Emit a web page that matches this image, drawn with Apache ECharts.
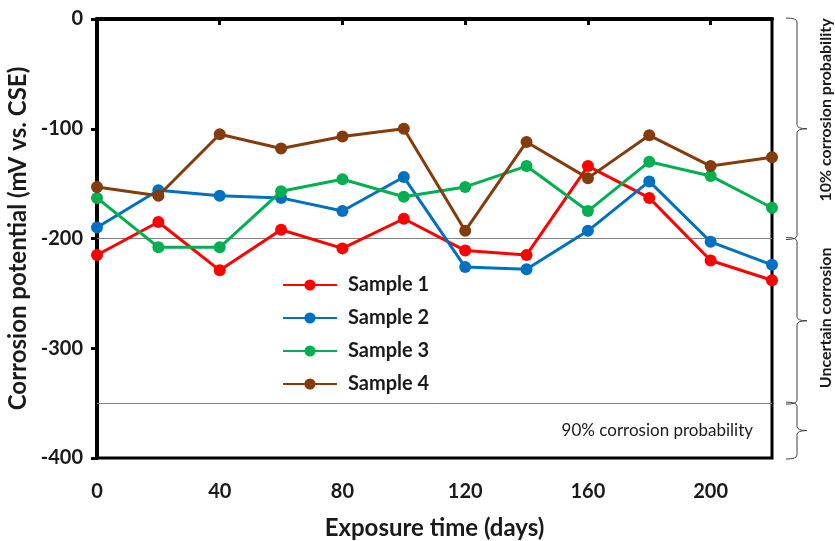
<!DOCTYPE html>
<html lang="en">
<head>
    <meta charset="UTF-8">
    <title>Corrosion potential</title>
    <style>
        html, body { margin: 0; padding: 0; background: #fff; }
        #main { width: 835px; height: 541px; }
    </style>
</head>
<body>
<div id="main"></div>
<script src="https://cdn.jsdelivr.net/npm/echarts@6/dist/echarts.min.js"></script>
<script>
    var days = [0, 20, 40, 60, 80, 100, 120, 140, 160, 180, 200, 220];
    var sample1 = [-215, -185, -229, -192, -209, -182, -211, -215, -134, -163, -220, -238];
    var sample2 = [-190, -156, -161, -163, -175, -144, -226, -228, -193, -148, -203, -224];
    var sample3 = [-163, -208, -208, -157, -146, -162, -153, -134, -175, -130, -143, -172];
    var sample4 = [-153, -161, -105, -118, -107, -100, -193, -112, -145, -106, -134, -126];
    var names = ['Sample 1', 'Sample 2', 'Sample 3', 'Sample 4'];
    var colors = ['#ff0000', '#0070c0', '#00b050', '#843c0c'];
    var xTicks = [0, 40, 80, 120, 160, 200];
    var limits = [-200, -350];

    var font = 'Lato, "Open Sans", sans-serif';

    var pairs = function (ys) {
        return days.map(function (d, i) { return [d, ys[i]]; });
    };

    var series = [sample1, sample2, sample3, sample4].map(function (ys, i) {
        var s = {
            name: names[i],
            type: 'line',
            data: pairs(ys),
            symbol: 'circle',
            symbolSize: 12,
            lineStyle: { width: 3, color: colors[i] },
            itemStyle: { color: colors[i] },
            z: 3 + i
        };
        if (i === 0) {
            s.markLine = {
                silent: true,
                symbol: 'none',
                label: { show: false },
                lineStyle: { color: '#808080', width: 1, type: 'solid' },
                data: limits.map(function (v) { return { yAxis: v }; }),
                z: 1
            };
        }
        return s;
    });

    var option = {
        animation: false,
        color: colors,
        grid: {
            left: 97, right: 63, top: 19, bottom: 83,
            outerBoundsMode: 'none',
            show: true, borderColor: '#000', borderWidth: 3
        },
        legend: {
            orient: 'vertical',
            left: 277,
            top: 270,
            itemWidth: 54,
            itemHeight: 14,
            itemGap: 13,
            data: names,
            textStyle: {
                fontFamily: font, fontWeight: 'bold', fontSize: 20,
                color: '#1a1a1a', padding: [0, 0, 0, 6]
            }
        },
        xAxis: {
            type: 'value',
            min: 0,
            max: 220,
            interval: 40,
            name: 'Exposure time (days)',
            nameLocation: 'middle',
            nameGap: 58,
            nameTextStyle: { fontFamily: font, fontWeight: 'bold', fontSize: 24, color: '#1a1a1a' },
            axisLine: { lineStyle: { color: '#000', width: 4 } },
            axisTick: { show: true, inside: false, length: 6, lineStyle: { width: 3, color: '#000' }, customValues: xTicks },
            axisLabel: { fontFamily: font, fontWeight: 'bold', fontSize: 20, color: '#1a1a1a', margin: 24, customValues: xTicks },
            splitLine: { show: false }
        },
        yAxis: {
            type: 'value',
            min: -400,
            max: 0,
            interval: 100,
            name: 'Corrosion potential (mV vs. CSE)',
            nameLocation: 'middle',
            nameGap: 67,
            nameTextStyle: { fontFamily: font, fontWeight: 'bold', fontSize: 24, color: '#1a1a1a' },
            axisLine: { lineStyle: { color: '#000', width: 4 } },
            axisTick: { show: true, inside: false, length: 6, lineStyle: { width: 3, color: '#000' } },
            axisLabel: { fontFamily: font, fontWeight: 'bold', fontSize: 20, color: '#1a1a1a', margin: 14 },
            splitLine: { show: false }
        },
        series: series
    };

    var chart = echarts.init(document.getElementById('main'));
    chart.setOption(option);

    // braces and zone labels on the right
    var py = function (v) { return chart.convertToPixel({ yAxisIndex: 0 }, v); };
    var px = function (v) { return chart.convertToPixel({ xAxisIndex: 0 }, v); };

    var stroke = { stroke: '#404040', lineWidth: 1, fill: null };
    var curve = function (x1, y1, cx, cy, x2, y2) {
        return { type: 'bezierCurve', silent: true, style: stroke,
            shape: { x1: x1, y1: y1, cpx1: cx, cpy1: cy, x2: x2, y2: y2 } };
    };
    var seg = function (x1, y1, x2, y2) {
        return { type: 'line', silent: true, style: stroke,
            shape: { x1: x1, y1: y1, x2: x2, y2: y2 } };
    };
    var brace = function (x, y0, y1) {
        var m = (y0 + y1) / 2, r = 4;
        return [
            curve(x - 11, y0, x, y0, x, y0 + r),
            seg(x, y0 + r, x, m - r),
            curve(x, m - r, x, m, x + 10, m),
            curve(x + 10, m, x, m, x, m + r),
            seg(x, m + r, x, y1 - r),
            curve(x, y1 - r, x, y1, x - 11, y1)
        ];
    };

    var bx = px(220) + 25;
    var zones = [[0, -200], [-200, -350], [-350, -400]];
    var graphics = [];
    zones.forEach(function (z) {
        graphics = graphics.concat(brace(bx, py(z[0]) - 1, py(z[1]) + 1));
    });

    var sideText = function (text, y) {
        return {
            type: 'text',
            x: bx + 29,
            y: y,
            rotation: Math.PI / 2,
            style: {
                text: text, fontFamily: font, fontWeight: 'bold', fontSize: 16,
                fill: '#1a1a1a', align: 'center', verticalAlign: 'middle'
            },
            silent: true
        };
    };
    graphics.push(sideText('10% corrosion probability', 110));
    graphics.push(sideText('Uncertain corrosion', (py(-200) + py(-350)) / 2 - 3));
    graphics.push({
        type: 'text',
        x: px(220) - 19,
        y: py(-375),
        style: {
            text: '90% corrosion probability', fontFamily: font, fontSize: 17,
            fill: '#1a1a1a', align: 'right', verticalAlign: 'middle'
        },
        silent: true
    });

    chart.setOption({ graphic: graphics });
</script>
</body>
</html>
